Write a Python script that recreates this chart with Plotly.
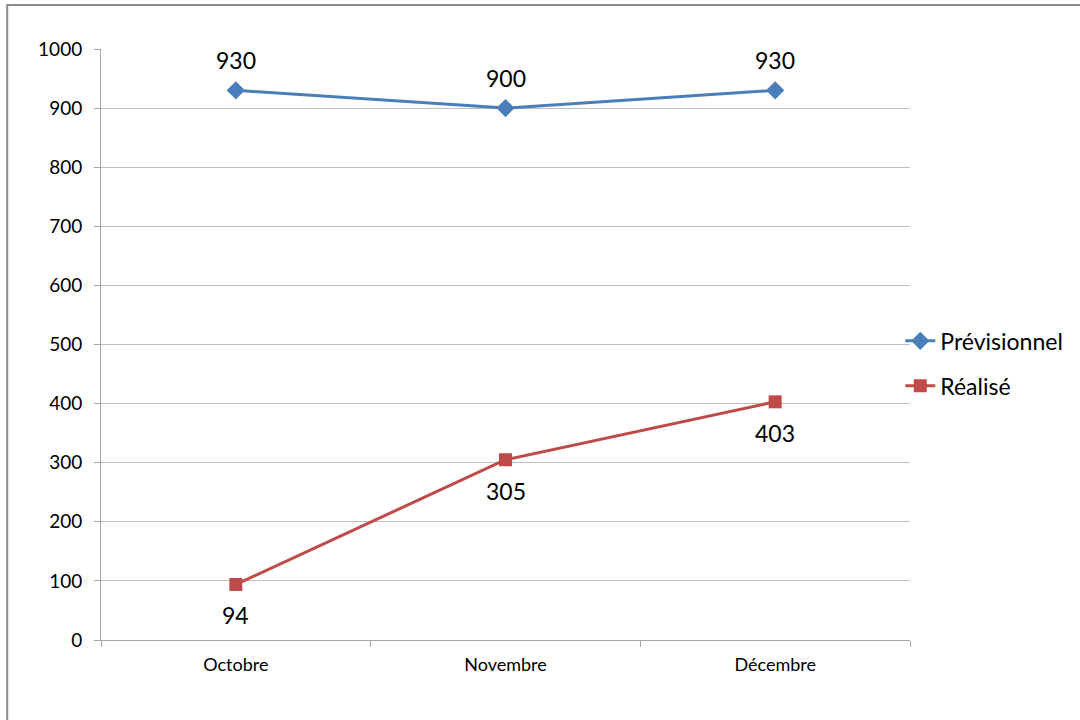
import plotly.graph_objects as go

categories = ["Octobre", "Novembre", "Décembre"]
previsionnel = [930, 900, 930]
realise = [94, 305, 403]
y_ticks = [0, 100, 200, 300, 400, 500, 600, 700, 800, 900, 1000]

FONT = "Lato, 'Open Sans', sans-serif"

fig = go.Figure()
fig.add_trace(go.Scatter(
    x=categories, y=previsionnel, name="Prévisionnel", legendgroup="a",
    mode="lines+markers",
    line=dict(color="#4A7EBB", width=3),
    marker=dict(symbol="diamond", size=14, color="#4A7EBB"),
    cliponaxis=False,
))
fig.add_trace(go.Scatter(
    x=categories, y=realise, name="Réalisé", legendgroup="b",
    mode="lines+markers",
    line=dict(color="#BE4B48", width=3),
    marker=dict(symbol="square", size=13, color="#BE4B48"),
    cliponaxis=False,
))

annotations = []
for c, v in zip(categories, previsionnel):
    annotations.append(dict(x=c, y=v, xref="x", yref="y", text=str(v),
                            showarrow=False, yshift=30,
                            font=dict(size=23, color="#000000")))
for c, v in zip(categories, realise):
    annotations.append(dict(x=c, y=v, xref="x", yref="y", text=str(v),
                            showarrow=False, yshift=-31,
                            font=dict(size=23, color="#000000")))

fig.update_layout(
    width=1080, height=720,
    margin=dict(l=101, r=168, t=49, b=80),
    paper_bgcolor="white", plot_bgcolor="white",
    font=dict(family=FONT, color="#000000"),
    showlegend=True,
    legend=dict(x=0.988, xanchor="left", y=0.468, yanchor="middle",
                font=dict(size=23), itemwidth=30, tracegroupgap=12,
                bgcolor="rgba(0,0,0,0)"),
    xaxis=dict(
        type="category", tickson="boundaries", ticks="outside", ticklen=6,
        tickcolor="#A6A6A6", showline=True, linecolor="#A6A6A6", linewidth=1,
        showgrid=False, tickfont=dict(size=18), range=[-0.5, 2.5],
        ticklabelstandoff=8,
    ),
    yaxis=dict(
        range=[0, 1000], tickvals=y_ticks, ticks="outside", ticklen=6,
        tickcolor="#A6A6A6", showline=True, linecolor="#A6A6A6", linewidth=1,
        showgrid=True, gridcolor="#BFBFBF", gridwidth=1,
        tickfont=dict(size=19), zeroline=False, ticklabelstandoff=8,
    ),
    annotations=annotations,
    shapes=[dict(type="rect", xref="paper", yref="paper",
                 x0=-94/811, x1=1.5, y0=-0.5, y1=1 + 44/591,
                 line=dict(color="#8C8C8C", width=2), fillcolor="rgba(0,0,0,0)",
                 layer="below")],
)

fig.write_html("out.html", config={"displayModeBar": False},
               post_script="document.body.style.margin='0';")
